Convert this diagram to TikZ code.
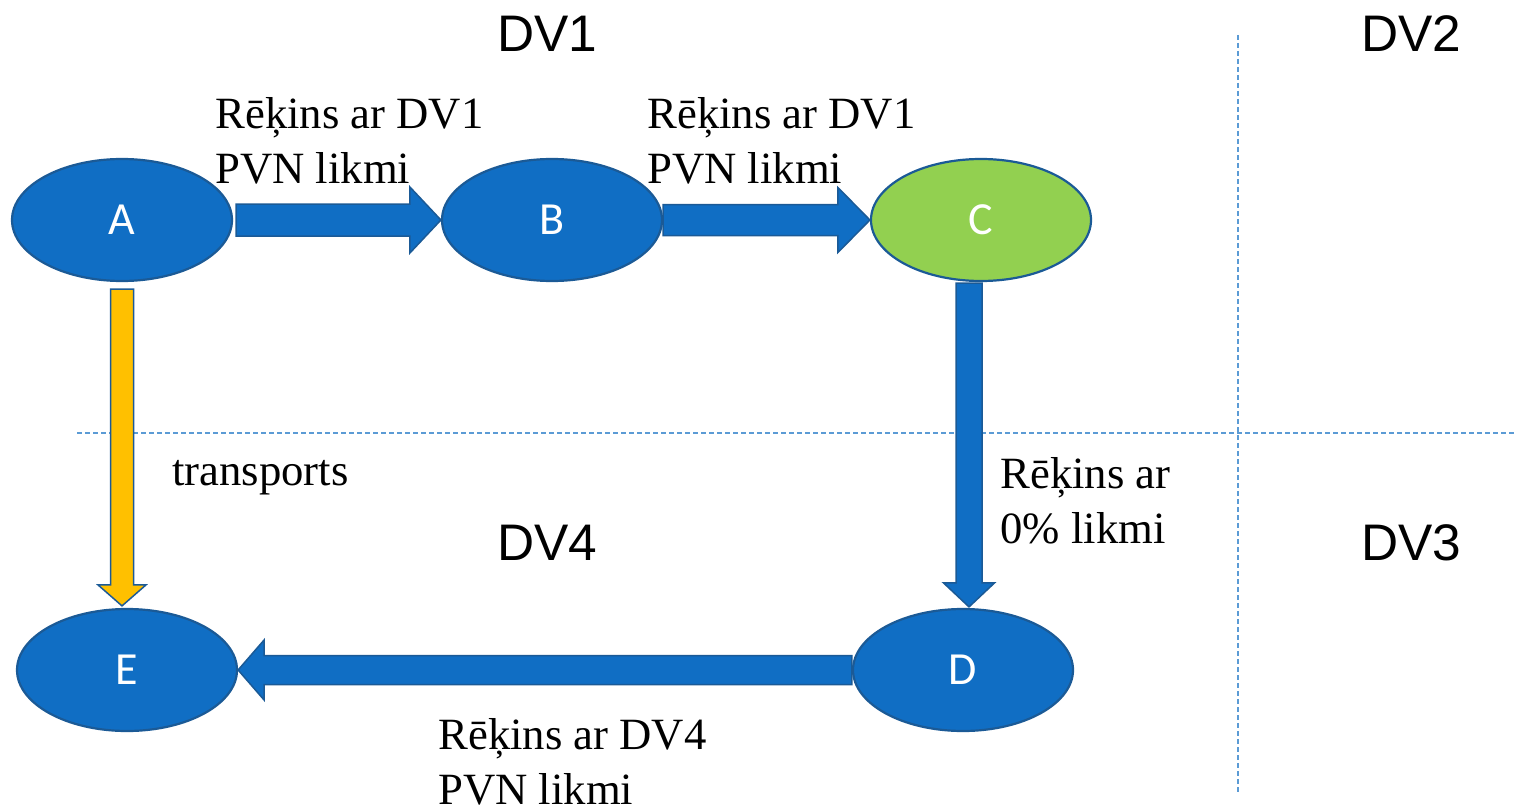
\documentclass[tikz,border=0pt]{standalone}
\usepackage{fontspec}
\setmainfont{Liberation Serif}
\newfontfamily\lsans{Liberation Sans}
\newfontfamily\carl{Carlito}
\usetikzlibrary{calc,shapes.geometric}
\definecolor{fillblue}{HTML}{106EC4}
\definecolor{edgeblue}{HTML}{1B5A96}
\definecolor{leafgreen}{HTML}{92D050}
\definecolor{amber}{HTML}{FFC000}
\definecolor{gridblue}{HTML}{5B9BD5}
% block arrow: [style]{start}{end}{shaft half}{head half}{head length}
\newcommand{\blockarrow}[6][blk]{%
  \draw[#1] ($(#2)!#4!90:(#3)$) -- ($($(#3)!#6!(#2)$)!#4!90:(#3)$)
    -- ($($(#3)!#6!(#2)$)!#5!90:(#3)$) -- (#3)
    -- ($($(#3)!#6!(#2)$)!#5!-90:(#3)$) -- ($($(#3)!#6!(#2)$)!#4!-90:(#3)$)
    -- ($(#2)!#4!-90:(#3)$) -- cycle;}
\begin{document}
\begin{tikzpicture}[x=0.5pt,y=-0.5pt,
 ell/.style={ellipse, draw=edgeblue, line width=1.1pt, fill=fillblue, minimum width=110pt, minimum height=61pt, inner sep=0pt, text=white, font=\carl\fontsize{23}{27}\selectfont},
 blk/.style={draw=edgeblue, line width=0.75pt, fill=fillblue, line join=miter},
 yblk/.style={blk, fill=amber},
 lbl/.style={anchor=base west, inner sep=0pt, align=left, font=\fontsize{22.35}{27.5}\selectfont},
 dv/.style={anchor=base, inner sep=0pt, font=\lsans\fontsize{25.7}{30}\selectfont},
 gridline/.style={draw=gridblue, line width=0.7pt, dash pattern=on 2.5pt off 1.5pt}]
\useasboundingbox (0,0) rectangle (1515,808);
% region dividers
\draw[gridline] (77,433) -- (1515,433);
\draw[gridline] (1238,35) -- (1238,792);
% region names
\node[dv] (dv1) at (547,52) {DV1};
\node[dv] (dv2) at (1411,52) {DV2};
\node[dv] (dv4) at (547,560) {DV4};
\node[dv] (dv3) at (1411,560) {DV3};
% parties
\node[ell] (A) at (122,220) {A};
\node[ell] (B) at (552,220) {B};
\node[ell, fill=leafgreen] (C) at (981,220) {C};
\node[ell] (D) at (963,670) {D};
\node[ell] (E) at (127,670) {E};
% arrow ends
\coordinate (ab) at ($(A.east)+(3,0)$);
\coordinate (cd1) at ($(C.south)+(-12,1)$);
\coordinate (cd2) at ($(D.north)+(6,-1)$);
\coordinate (ae1) at ($(A.south)+(0,7)$);
\coordinate (ae2) at ($(E.north)+(-5,-2)$);
% arrows
\blockarrow{ab}{B.west}{8pt}{16.5pt}{15.5pt}
\blockarrow{B.east}{C.west}{7.75pt}{16.25pt}{16pt}
\blockarrow{cd1}{cd2}{6.5pt}{12.75pt}{12pt}
\blockarrow{D.west}{E.east}{7.25pt}{15pt}{13pt}
\blockarrow[yblk]{ae1}{ae2}{5.75pt}{12pt}{10.5pt}
% labels (anchor = baseline of the last line)
\node[lbl] (l1) at (215,184) {Rēķins ar DV1\\PVN likmi};
\node[lbl] (l2) at (647,184) {Rēķins ar DV1\\PVN likmi};
\node[lbl] (l3) at (172,485) {transports};
\node[lbl] (l4) at (1000,543) {Rēķins ar\\0\% likmi};
\node[lbl] (l5) at (438,804) {Rēķins ar DV4\\PVN likmi};
\end{tikzpicture}
\end{document}
